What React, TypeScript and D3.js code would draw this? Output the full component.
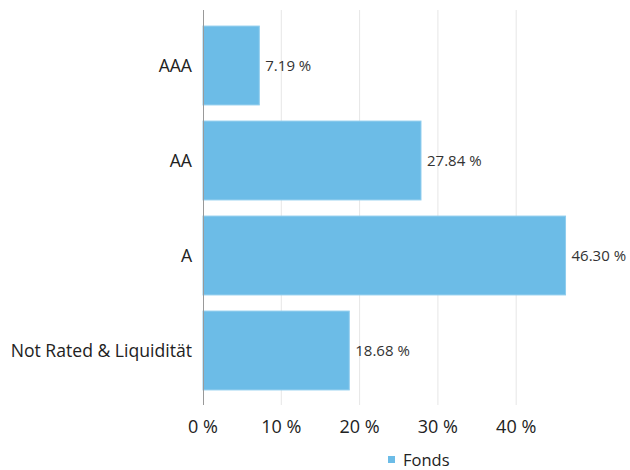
import React from "react";
import * as d3 from "d3";

const categories = ["AAA", "AA", "A", "Not Rated & Liquidität"];
const values = [7.19, 27.84, 46.3, 18.68];
const ticks = [0, 10, 20, 30, 40];
const seriesName = "Fonds";

export default function App() {
  const width = 630;
  const height = 470;
  const x0 = 203;
  const x = d3.scaleLinear().domain([0, 10]).range([x0, x0 + 78.3]);
  const y = d3.scaleBand<string>().domain(categories).range([18, 398]).paddingInner(0.17).paddingOuter(0.085);
  const color = "#6cbce7";
  const font = "'Open Sans', sans-serif";
  return (
    <svg width={width} height={height} style={{ position: "absolute", left: 0, top: 0 }}>
      <rect width={width} height={height} fill="#fff" />
      {ticks.slice(1).map((t) => (
        <line key={t} x1={x(t)} x2={x(t)} y1={10} y2={405} stroke="#e6e6e6" strokeWidth={1} />
      ))}
      {categories.map((c, i) => (
        <g key={c}>
          <rect x={x(0)} y={y(c)} width={x(values[i]) - x(0)} height={y.bandwidth()} fill={color} stroke="#8fcdee" strokeWidth={1} />
          <text x={x(values[i]) + 6} y={(y(c) as number) + y.bandwidth() / 2} dy="0.35em" fontSize={15} fill="#333" fontFamily={font}>
            {values[i].toFixed(2)} %
          </text>
          <text x={192} y={(y(c) as number) + y.bandwidth() / 2} dy="0.35em" textAnchor="end" fontSize={17.6} fill="#222" fontFamily={font}>
            {c}
          </text>
        </g>
      ))}
      <line x1={x0 + 0.5} x2={x0 + 0.5} y1={10} y2={405} stroke="#999" strokeWidth={1} />
      {ticks.map((t) => (
        <text key={t} x={x(t)} y={427} dy="0.35em" textAnchor="middle" fontSize={18} fill="#222" fontFamily={font}>
          {t} %
        </text>
      ))}
      <rect x={388} y={456} width={7} height={7} fill={color} />
      <text x={403} y={460} dy="0.35em" fontSize={16.5} fill="#222" fontFamily={font}>{seriesName}</text>
    </svg>
  );
}
